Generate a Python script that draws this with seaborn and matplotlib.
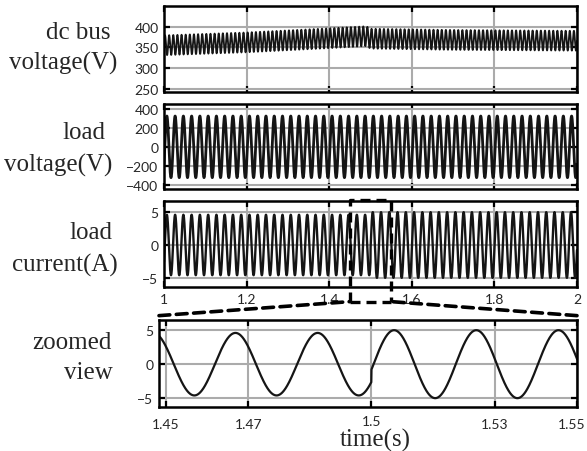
import numpy as np
import pandas as pd
import matplotlib
matplotlib.use("Agg")
import matplotlib.pyplot as plt
from matplotlib.patches import ConnectionPatch
from matplotlib.transforms import ScaledTranslation
import seaborn as sns

# values
# dc bus: mean level at a few instants (V) and 100 Hz ripple amplitude (V)
dc_t = [1.0, 1.2, 1.4, 1.49, 1.5, 1.7, 2.0]
dc_mean = [355, 362, 372, 377, 371, 368, 366]
dc_ripple = 24
dc_ripple_hz = 100

# load voltage: 50 Hz sine, crest time (s), amplitude (V)
vload_hz = 50
vload_amp = 325
vload_peak_t = 1.4669

# load current: amplitude and crest time change at t = 1.5
i_hz = 50
i_step_t = 1.5
i_amp = [4.6, 5.0]
i_peak_t = [1.4669, 1.5055]

# axis ticks
t_ticks = [1, 1.2, 1.4, 1.6, 1.8, 2]
t_labels = ["1", "1.2", "1.4", "1.6", "1.8", "2"]
zoom_ticks = [1.45, 1.47, 1.5, 1.53, 1.55]
zoom_labels = ["1.45", "1.47", "1.5", "1.53", "1.55"]
dc_ticks = [250, 300, 350, 400]
v_ticks = [-400, -200, 0, 200, 400]
i_ticks = [-5, 0, 5]

# build the sampled waveforms from the values above
t = np.linspace(1.0, 2.0, 20001)
dc = np.interp(t, dc_t, dc_mean) + dc_ripple * np.sin(2 * np.pi * dc_ripple_hz * t)
vload = vload_amp * np.cos(2 * np.pi * vload_hz * (t - vload_peak_t))
after = t >= i_step_t
iload = np.where(after,
                 i_amp[1] * np.cos(2 * np.pi * i_hz * (t - i_peak_t[1])),
                 i_amp[0] * np.cos(2 * np.pi * i_hz * (t - i_peak_t[0])))
df = pd.DataFrame({"time": t, "dc": dc, "vload": vload, "iload": iload})
dz = df[(df["time"] >= 1.448) & (df["time"] <= 1.5502)]

sns.set_style("ticks")
plt.rcParams["font.family"] = ["Lato", "DejaVu Sans"]

fig = plt.figure(figsize=(5.87, 4.52), dpi=100)
W, H = 587.0, 452.0


def px_axes(left, top, right, bottom):
    return fig.add_axes([left / W, 1 - bottom / H, (right - left) / W, (bottom - top) / H])


ax1 = px_axes(164, 7, 577, 93)
ax2 = px_axes(164, 105, 577, 190)
ax3 = px_axes(164, 202, 577, 288)
ax4 = px_axes(159, 321, 577, 408)

sns.lineplot(data=df, x="time", y="dc", ax=ax1, color="#151515", lw=1.3,
             estimator=None, sort=False)
sns.lineplot(data=df, x="time", y="vload", ax=ax2, color="#151515", lw=2.0,
             estimator=None, sort=False)
sns.lineplot(data=df, x="time", y="iload", ax=ax3, color="#151515", lw=1.7,
             estimator=None, sort=False)
sns.lineplot(data=dz, x="time", y="iload", ax=ax4, color="#151515", lw=1.6,
             estimator=None, sort=False)

ax1.set_ylim(242, 450)
ax1.set_yticks(dc_ticks)
ax2.set_ylim(-445, 452)
ax2.set_yticks(v_ticks)
ax3.set_ylim(-6.4, 6.7)
ax3.set_yticks(i_ticks)
ax4.set_ylim(-6.3, 6.5)
ax4.set_yticks(i_ticks)

for ax in (ax1, ax2, ax3):
    ax.set_xlim(1, 2)
    ax.set_xticks(t_ticks)
ax1.set_xticklabels([])
ax2.set_xticklabels([])
ax3.set_xticklabels(t_labels)
ax4.set_xlim(1.4483, 1.55)
ax4.set_xticks(zoom_ticks)
ax4.set_xticklabels(zoom_labels)

for ax in (ax1, ax2, ax3, ax4):
    ax.set_xlabel("")
    ax.set_ylabel("")
    ax.grid(True, color="#ababab", lw=1.5)
    ax.set_axisbelow(True)
    for s in ax.spines.values():
        s.set_visible(True)
        s.set_color("black")
        s.set_linewidth(1.8)
    ax.tick_params(direction="in", length=4, width=1.6, color="black",
                   top=True, right=True, labelsize=10, pad=4)
ax4.tick_params(axis="x", pad=8)

# nudge two zoom tick labels: keep "1.55" inside the edge, lift "1.5" above time(s)
zlabels = ax4.get_xticklabels()
for lab, dx, dy in ((zlabels[-1], -5, 0), (zlabels[2], 0, 3)):
    lab.set_transform(lab.get_transform() + ScaledTranslation(dx / 100, dy / 100, fig.dpi_scale_trans))

serif = dict(family="Liberation Serif", fontsize=18, ha="center", va="center")
row_text = [("dc bus", 78, 33), ("voltage(V)", 63, 63),
            ("load", 84, 133), ("voltage(V)", 58, 165),
            ("load", 91, 233), ("current(A)", 65, 265),
            ("zoomed", 72, 343), ("view", 88, 373),
            ("time(s)", 375, 440)]
for s, x, y in row_text:
    fig.text(x / W, 1 - y / H, s, **serif)

# zoom frame in the load current panel and the lines to the zoomed view
dash = dict(color="black", lw=2.4, linestyle=(0, (3, 1.8)), clip_on=False)
ax3.plot([1.45, 1.45, 1.55, 1.55], [-0.17, 1.01, 1.01, -0.17],
         transform=ax3.get_xaxis_transform(), **dash)
ax3.plot([1.45, 1.55], [-0.17, -0.17], transform=ax3.get_xaxis_transform(), **dash)
for xa, xb in ((0, 1.45), (1, 1.55)):
    con = ConnectionPatch(xyA=(xa, 1.05), coordsA=ax4.transAxes,
                          xyB=(xb, -0.17), coordsB=ax3.get_xaxis_transform(),
                          color="black", lw=2.6, linestyle=(0, (3, 1.8)))
    fig.add_artist(con)

fig.savefig("out.png", dpi=100)
